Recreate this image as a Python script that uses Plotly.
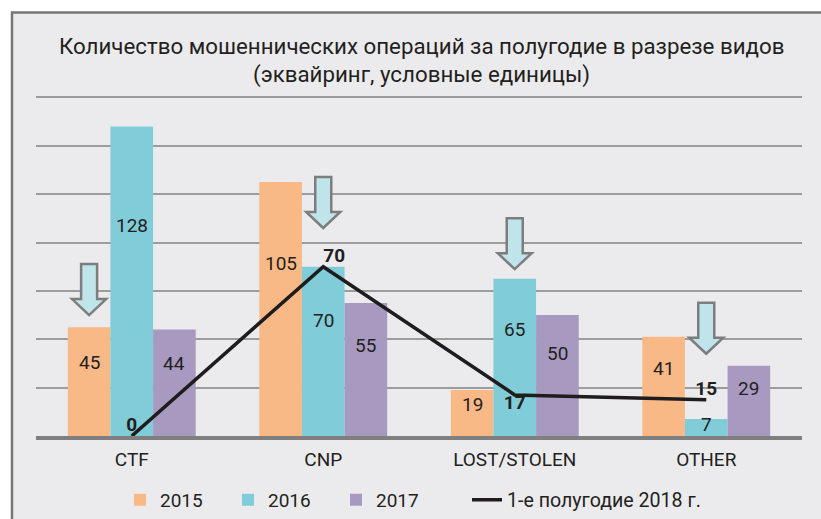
import plotly.graph_objects as go

categories = ["CTF", "CNP", "LOST/STOLEN", "OTHER"]
years = ["2015", "2016", "2017"]
values_2015 = [45, 105, 19, 41]
values_2016 = [128, 70, 65, 7]
values_2017 = [44, 55, 50, 29]
line_name = "1-е полугодие 2018 г."
values_2018h1 = [0, 70, 17, 15]
title_line1 = "Количество мошеннических операций за полугодие в разрезе видов"
title_line2 = "(эквайринг, условные единицы)"

# decorative arrows: (category index, series index, value at arrow tip)
arrows = [(0, 0, 50), (1, 1, 86), (2, 1, 69), (3, 1, 34)]

colors = ["#f9b987", "#80ccd9", "#a899c1"]
FONT = "Roboto"
TXT = "#231f20"

# screen-to-paper helpers (plot area in page pixels)
PLOT_L, PLOT_W, PLOT_B, PLOT_H = 36, 766, 436, 340.5
def px(sx):
    return (sx - PLOT_L) / PLOT_W
def py(sy):
    return (PLOT_B - sy) / PLOT_H

x_idx = list(range(len(categories)))
bargap = 0.332
bw = (1 - bargap) / 3

fig = go.Figure()
series = [values_2015, values_2016, values_2017]
for name, vals, col in zip(years, series, colors):
    fig.add_trace(go.Bar(x=x_idx, y=vals, name=name, marker=dict(color=col, line=dict(width=0)),
                         hoverinfo="skip", legend="legend"))

fig.add_trace(go.Scatter(x=x_idx, y=values_2018h1, name=line_name, mode="lines+text",
                         line=dict(color="#1e1c1c", width=3.5),
                         text=[str(v) for v in values_2018h1],
                         textposition=["top center", "top right", "bottom center", "top center"],
                         textfont=dict(family=FONT, size=19, color=TXT, weight="bold"),
                         hoverinfo="skip", legend="legend2"))

annotations = []
# value labels inside bars
for si, vals in enumerate(series):
    for ci, v in enumerate(vals):
        annotations.append(dict(x=ci + (si - 1) * bw, y=v * 0.68, xref="x", yref="y",
                                text=str(v), showarrow=False,
                                font=dict(family=FONT, size=19, color=TXT)))
annotations.append(dict(x=px(421), y=py(45), xref="paper", yref="paper", text=title_line1,
                        showarrow=False, font=dict(family=FONT, size=22.3, color=TXT), yanchor="middle"))
annotations.append(dict(x=px(421), y=py(74), xref="paper", yref="paper", text=title_line2,
                        showarrow=False, font=dict(family=FONT, size=22.3, color=TXT), yanchor="middle"))

shapes = [dict(type="rect", xref="paper", yref="paper", x0=px(12), x1=px(840),
               y0=py(560), y1=py(12), fillcolor="#ebebed",
               line=dict(color="#777777", width=2.5), layer="below")]
arrow_path = "M 0 0 L -17 16 L -8 16 L -8 51 L 8 51 L 8 16 L 17 16 Z"
for ci, si, tip in arrows:
    shapes.append(dict(type="path", xref="x", yref="y", xsizemode="pixel", ysizemode="pixel",
                       xanchor=ci + (si - 1) * bw, yanchor=tip, path=arrow_path,
                       fillcolor="#bfe5eb", line=dict(color="#7d7d7d", width=2.5), layer="above"))

legend_font = dict(family=FONT, size=19, color=TXT)
fig.update_layout(
    width=821, height=519,
    margin=dict(l=36, r=19, t=95.5, b=83, autoexpand=False),
    paper_bgcolor="white", plot_bgcolor="rgba(0,0,0,0)",
    barmode="group", bargap=bargap, bargroupgap=0,
    showlegend=True,
    legend=dict(orientation="h", x=px(120), xanchor="left", y=py(500), yanchor="middle",
                entrywidth=63, itemwidth=30, font=legend_font, bgcolor="rgba(0,0,0,0)"),
    legend2=dict(orientation="h", x=px(467), xanchor="left", y=py(500), yanchor="middle",
                 itemwidth=30, font=dict(family=FONT, size=19.6, color=TXT), bgcolor="rgba(0,0,0,0)"),
    xaxis=dict(tickmode="array", tickvals=x_idx, ticktext=categories, range=[-0.5, 3.5],
               showgrid=False, showline=True, linecolor="#7f7f7f", linewidth=4,
               ticks="", ticklabelstandoff=3, tickfont=dict(family=FONT, size=19, color=TXT),
               zeroline=False),
    yaxis=dict(range=[0, 140.6], tickmode="array", tickvals=[0, 20, 40, 60, 80, 100, 120, 140],
               showticklabels=False, showgrid=True,
               gridcolor="#9c9c9c", gridwidth=1.5, zeroline=False, ticks=""),
    annotations=annotations, shapes=shapes,
    font=dict(family=FONT),
)

fig.write_html("out.html", config={"displayModeBar": False},
               post_script="document.body.style.margin='0px';document.body.style.overflow='hidden';")
